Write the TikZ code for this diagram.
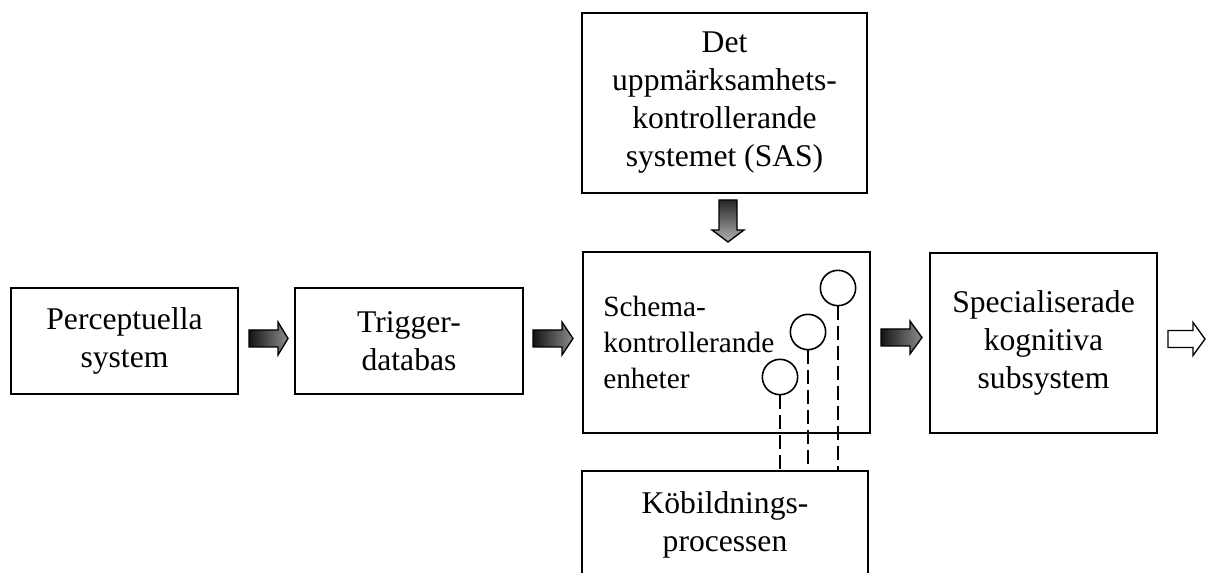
\documentclass[tikz,border=0pt]{standalone}
\usepackage{fontspec}
\setmainfont{Liberation Serif}
\begin{document}
\begin{tikzpicture}[x=0.75pt,y=-0.75pt,
  box/.style={draw, line width=1.3pt, inner sep=0pt, align=center,
    font=\fontsize{23.7}{28.5}\selectfont},
  txt/.style={inner sep=0pt, align=left, font=\fontsize{22}{27}\selectfont},
  unit/.style={draw, circle, line width=1.2pt, minimum size=26.5pt, inner sep=0pt},
  link/.style={line width=1.2pt, dash pattern=on 10pt off 5pt},
  garrow/.style={line width=1pt, draw=black, left color=black!92, middle color=black!22, right color=black!45},
  warrow/.style={line width=1pt, draw=black, fill=white},
  darrow/.style={line width=1pt, draw=black, top color=black!85, middle color=black!45, bottom color=black!30}
]
\useasboundingbox (0,0) rectangle (1206,573);
\clip (0,0) rectangle (1206,573);

% boxes
\node[box, minimum width=170.25pt, minimum height=79.5pt] (perc) at (124.5,341) {Perceptuella\\system};
\node[box, minimum width=171pt, minimum height=79.5pt] (trig) at (409,341) {Trigger-\\databas};
\node[box, minimum width=215.25pt, minimum height=135.75pt] (schema) at (726.5,342.5) {};
\node[txt, anchor=west] (schematext) at (603,342) {Schema-\\kontrollerande\\enheter};
\node[box, minimum width=213.75pt, minimum height=135pt] (sas) at (724.5,103) {Det\\uppmärksamhets-\\kontrollerande\\systemet (SAS)};
\node[box, minimum width=214.5pt, minimum height=81pt] (kob) at (725,525) {Köbildnings-\\processen};
\node[box, minimum width=170.25pt, minimum height=135pt] (spec) at (1043.5,343) {Specialiserade\\kognitiva\\subsystem};

% units
\node[unit] (u1) at (780,377) {};
\node[unit] (u2) at (808,332) {};
\node[unit] (u3) at (838,288) {};
\draw[link] (u1.south) -- (u1.south |- kob.north);
\draw[link] (u2.south) -- (u2.south |- kob.north);
\draw[link] (u3.south) -- (u3.south |- kob.north);

% block arrows
\shadedraw[garrow] (249,330) -- (278,330) -- (278,322) -- (288,338.5) -- (278,355) -- (278,347) -- (249,347) -- cycle;
\shadedraw[garrow] (533,330) -- (562,330) -- (562,322) -- (573,338.5) -- (562,355) -- (562,347) -- (533,347) -- cycle;
\shadedraw[garrow] (881,329) -- (910,329) -- (910,321) -- (922,337.5) -- (910,354) -- (910,346) -- (881,346) -- cycle;
\draw[warrow] (1168,330.5) -- (1193,330.5) -- (1193,322.5) -- (1205,339) -- (1193,355.5) -- (1193,347.5) -- (1168,347.5) -- cycle;
\shadedraw[darrow] (719,200) -- (737,200) -- (737,230) -- (744,230) -- (728,242) -- (712,230) -- (719,230) -- cycle;
\end{tikzpicture}
\end{document}
